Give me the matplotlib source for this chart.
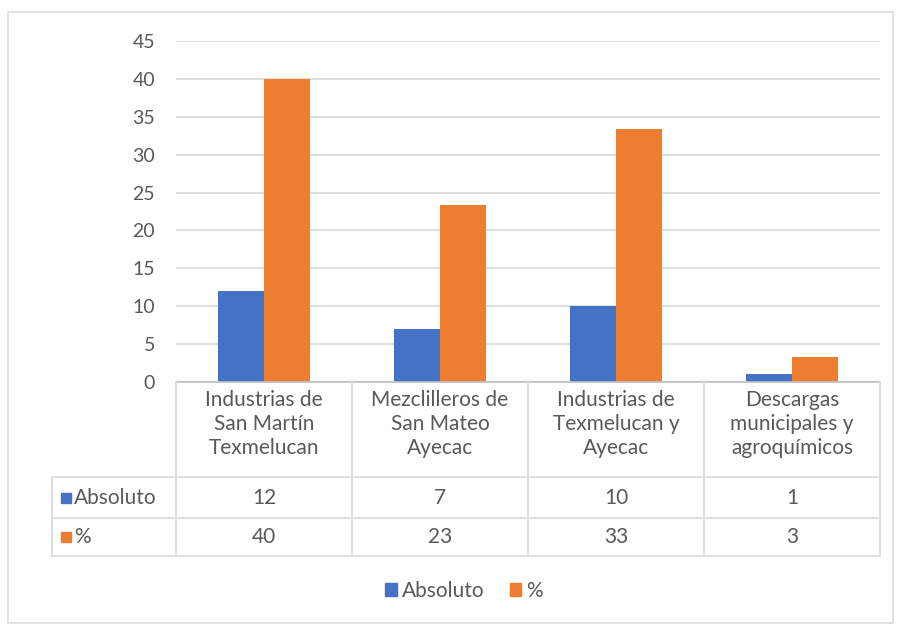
import numpy as np
import matplotlib.pyplot as plt
import matplotlib.transforms as mtransforms
from matplotlib.lines import Line2D
from matplotlib.patches import Rectangle

plt.rcParams['font.family'] = ['Lato', 'DejaVu Sans']

categorias = ['Industrias de\nSan Martín\nTexmelucan',
              'Mezclilleros de\nSan Mateo\nAyecac',
              'Industrias de\nTexmelucan y\nAyecac',
              'Descargas\nmunicipales y\nagroquímicos']
absoluto = [12, 7, 10, 1]
porcentaje = [40, 23.33, 33.33, 3.33]
series = ['Absoluto', '%']

azul = '#4472C4'
naranja = '#ED7D31'
gris_txt = '#595959'
gris_lin = '#D9D9D9'
fs = 15

W, H = 897, 624
fig = plt.figure(figsize=(W / 100, H / 100), dpi=100)

def fx(x):
    return x / W

def fy(y):
    return 1 - y / H

# outer chart frame
fig.patches.append(Rectangle((fx(8), fy(623)), fx(885), (623 - 12) / H,
                             transform=fig.transFigure, fill=False,
                             edgecolor='#DDDDDD', lw=1.2))

ax = fig.add_axes([fx(176), fy(382), fx(880) - fx(176), (382 - 41) / H])
x = np.arange(len(categorias))
w = 0.262
ax.bar(x - w / 2, absoluto, w, color=azul, zorder=3)
ax.bar(x + w / 2, porcentaje, w, color=naranja, zorder=3)

ax.set_xlim(-0.5, len(categorias) - 0.5)
ax.set_ylim(0, 45)
ax.set_yticks(range(0, 46, 5))
ax.yaxis.grid(True, color=gris_lin, lw=1.2, zorder=0)
ax.set_xticks([])
for s in ax.spines.values():
    s.set_visible(False)
ax.tick_params(axis='y', length=0, labelsize=fs - 1, labelcolor=gris_txt, pad=15)

# data table under the axis
tr = mtransforms.blended_transform_factory(ax.transData, fig.transFigure)
lc = '#D9D9D9'

def hline(x0, x1, y, c=lc):
    fig.add_artist(Line2D([fx(x0), fx(x1)], [fy(y), fy(y)], color=c, lw=1.2,
                          transform=fig.transFigure))

def vline(xp, y0, y1):
    fig.add_artist(Line2D([fx(xp), fx(xp)], [fy(y0), fy(y1)], color=lc, lw=1.2,
                          transform=fig.transFigure))

hline(176, 880, 382, '#BFBFBF')
hline(52, 880, 477)
hline(52, 880, 518)
hline(52, 880, 556)
vline(52, 477, 556)
for i in range(len(categorias) + 1):
    xp = 176 + i * (880 - 176) / len(categorias)
    vline(xp, 382, 556)

for i, cat in enumerate(categorias):
    ax.text(i, fy(424), cat, transform=tr, ha='center', va='center',
            fontsize=fs, color=gris_txt, linespacing=1.22)
    ax.text(i, fy(498), f'{absoluto[i]:.0f}', transform=tr, ha='center',
            va='center', fontsize=fs, color=gris_txt)
    ax.text(i, fy(537), f'{porcentaje[i]:.0f}', transform=tr, ha='center',
            va='center', fontsize=fs, color=gris_txt)

for yy, nombre, col in [(498, series[0], azul), (537, series[1], naranja)]:
    fig.patches.append(Rectangle((fx(61), fy(yy + 5)), fx(10), 10 / H,
                                 transform=fig.transFigure, color=col))
    fig.text(fx(74), fy(yy), nombre, ha='left', va='center', fontsize=fs,
             color=gris_txt)

handles = [Rectangle((0, 0), 1, 1, color=azul), Rectangle((0, 0), 1, 1, color=naranja)]
fig.legend(handles, series, loc='center', bbox_to_anchor=(fx(464), fy(591)),
           ncol=2, frameon=False, fontsize=fs, labelcolor=gris_txt,
           handlelength=0.55, handleheight=0.55, handletextpad=0.25,
           columnspacing=1.2)

fig.savefig('out.png', dpi=100, facecolor='white')
